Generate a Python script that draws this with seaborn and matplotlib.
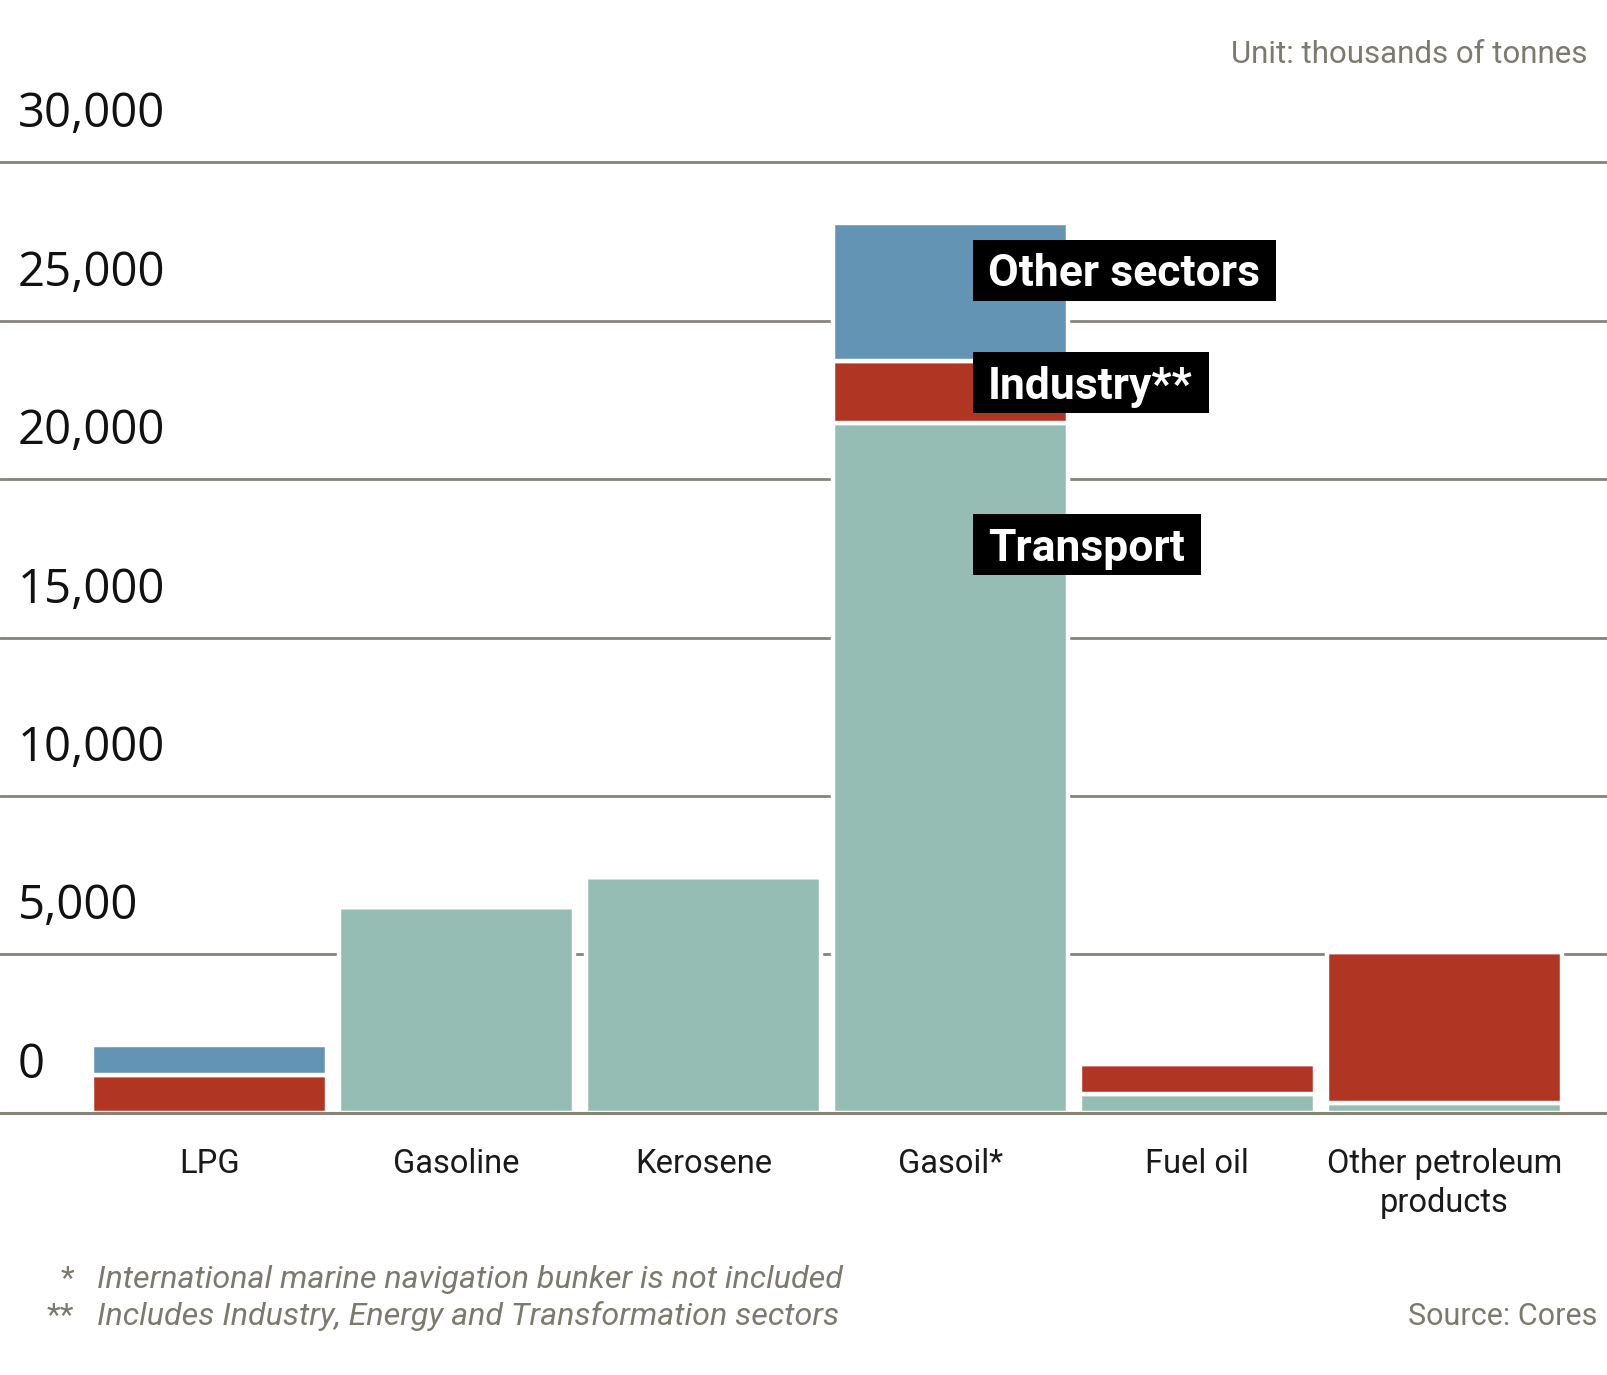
import numpy as np
import matplotlib
matplotlib.use("Agg")
import matplotlib.pyplot as plt
import matplotlib.transforms as mtransforms
from matplotlib.patches import Rectangle
from matplotlib import font_manager
import seaborn as sns

# --- data (thousands of tonnes) ---
categories = ["LPG", "Gasoline", "Kerosene", "Gasoil*", "Fuel oil", "Other petroleum\nproducts"]
transport = [0, 6500, 7440, 21780, 580, 320]
industry = [1200, 0, 0, 1960, 950, 4760]
other_sectors = [950, 0, 0, 4350, 0, 0]

y_ticks = [0, 5000, 10000, 15000, 20000, 25000, 30000]
series_labels = ["Other sectors", "Industry**", "Transport"]
label_y = [26080, 22540, 17420]
footnotes = [("*", "International marine navigation bunker is not included"),
             ("**", "Includes Industry, Energy and Transformation sectors")]

TEAL, RED, BLUE = "#96bdb3", "#b13523", "#6394b3"
GRID = "#85837a"
NOTE = "#7c7a6f"

sns.set_theme(style="white")
plt.rcParams["font.family"] = ["Roboto", "DejaVu Sans"]

_names = {f.name for f in font_manager.fontManager.ttflist}
if "Liberation Sans Narrow" in _names:
    BOX_FONT, BOX_SIZE = "Liberation Sans Narrow", 36.5
else:
    BOX_FONT, BOX_SIZE = "Roboto", 32

W, H = 1608, 1375
fig = plt.figure(figsize=(W / 100, H / 100), dpi=100)
ax = fig.add_axes([0, 0.17924, 1, 0.7488])

bottom = np.zeros(len(categories))
for vals, col in [(transport, TEAL), (industry, RED), (other_sectors, BLUE)]:
    sns.barplot(x=categories, y=vals, color=col, width=0.953, bottom=bottom,
                edgecolor="white", linewidth=3.2, saturation=1, errorbar=None,
                ax=ax, zorder=2)
    bottom = bottom + np.array(vals)

ax.set_xlim(-0.849, 5.663)
ax.set_ylim(-500, 32000)
ax.set_yticks(y_ticks)
ax.grid(axis="y", color=GRID, linewidth=2)
ax.set_axisbelow(True)
ax.axhline(0, color=GRID, linewidth=2.2, zorder=5)
for s in ax.spines.values():
    s.set_visible(False)
ax.set_xlabel("")
ax.set_ylabel("")
ax.tick_params(axis="y", length=0, labelleft=False)
ax.tick_params(axis="x", length=0, pad=14, labelsize=23.5, labelcolor="#1a1a1a")
for t in ax.get_xticklabels():
    t.set_linespacing(1.3)

# y labels sit above their gridlines
lab_tr = mtransforms.offset_copy(ax.get_yaxis_transform(), fig=fig, x=0, y=35, units="dots")
for v in y_ticks:
    ax.text(18 / W, v, f"{v:,}", transform=lab_tr, ha="left", va="baseline",
            fontsize=34, family=["Open Sans", "DejaVu Sans"], color="#111111")

# series labels in black boxes
box_texts = []
for lab, yv in zip(series_labels, label_y):
    t = ax.text(3.152, yv, lab, color="white", fontsize=BOX_SIZE, fontweight="bold",
                family=[BOX_FONT, "DejaVu Sans"], ha="left", va="baseline", zorder=7)
    box_texts.append(t)

fig.canvas.draw()
renderer = fig.canvas.get_renderer()
inv = ax.transData.inverted()
cap = 0.72 * BOX_SIZE * 100 / 72
for t, yv in zip(box_texts, label_y):
    bb = t.get_window_extent(renderer)
    base = ax.transData.transform((3.152, yv))[1]
    x0, y0 = bb.x0 - 15, base - (61 - cap) / 2
    x1, y1 = bb.x1 + 16, y0 + 61
    (dx0, dy0), (dx1, dy1) = inv.transform((x0, y0)), inv.transform((x1, y1))
    ax.add_patch(Rectangle((dx0, dy0), dx1 - dx0, dy1 - dy0, facecolor="black",
                           edgecolor="none", zorder=6, clip_on=False))

# header / footer text
fig.text(1587 / W, 1 - 63 / H, "Unit: thousands of tonnes", ha="right", va="baseline",
         fontsize=22.5, color=NOTE)
fig.text(1597 / W, 1 - 1325 / H, "Source: Cores", ha="right", va="baseline",
         fontsize=22, color=NOTE)
for (mark, note), yb in zip(footnotes, [1287.5, 1325]):
    fig.text(74 / W, 1 - yb / H, mark, ha="right", va="baseline", fontsize=23, color=NOTE)
    fig.text(97 / W, 1 - yb / H, note, ha="left", va="baseline", fontsize=23.2,
             style="italic", color=NOTE)

fig.savefig("out.png", dpi=100)
